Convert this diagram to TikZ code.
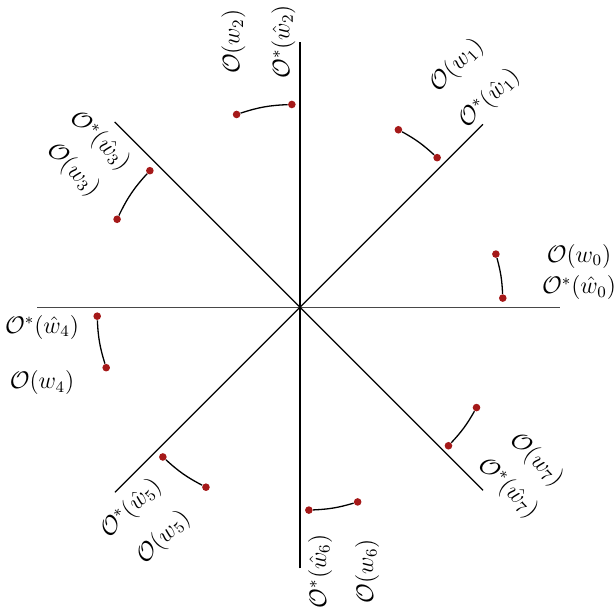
\documentclass[tikz,border=0pt]{standalone}
\usepackage{amsmath}
\definecolor{dotred}{RGB}{165,25,25}
\begin{document}
\begin{tikzpicture}[x=0.5pt,y=0.5pt,
  axis/.style={line width=0.65pt, black},
  haxis/.style={line width=0.8pt, black!72},
  dotn/.style={circle, fill=dotred, inner sep=0pt, minimum size=3.8pt},
  link/.style={line width=0.65pt, black},
  lbl/.style={inner sep=0pt, font=\fontsize{12}{14}\selectfont}]
\useasboundingbox (-300,-298.7) rectangle (315,307.3);
% axes
\coordinate (C) at (0,0);
\coordinate (E0) at (0:260);
\coordinate (E1) at (45:258.7);
\coordinate (E2) at (90:265.6);
\coordinate (E3) at (135:262.1);
\coordinate (E4) at (180:262.7);
\coordinate (E5) at (225:261.6);
\coordinate (E6) at (270:261);
\coordinate (E7) at (315:258.8);
\draw[haxis] (E4) -- (E0);
\draw[axis] (E6) -- (E2);
\draw[axis] (E5) -- (E1);
\draw[axis] (E3) -- (E7);
% dots
\node[dotn] (d0a) at (2.6:203) {};
\node[dotn] (d0b) at (15.2:203) {};
\node[dotn] (d1a) at (47.5:203) {};
\node[dotn] (d1b) at (61.0:203) {};
\node[dotn] (d2a) at (92.3:203) {};
\node[dotn] (d2b) at (108.2:203) {};
\node[dotn] (d3a) at (137.7:203) {};
\node[dotn] (d3b) at (154.3:203) {};
\node[dotn] (d4a) at (182.5:203) {};
\node[dotn] (d4b) at (197.3:203) {};
\node[dotn] (d5a) at (227.5:203) {};
\node[dotn] (d5b) at (242.4:203) {};
\node[dotn] (d6a) at (272.5:203) {};
\node[dotn] (d6b) at (286.5:203) {};
\node[dotn] (d7a) at (317.0:203) {};
\node[dotn] (d7b) at (330.4:203) {};
% arcs
\draw[link] (d0a) to[bend right=6.3] (d0b);
\draw[link] (d1a) to[bend right=6.75] (d1b);
\draw[link] (d2a) to[bend right=7.95] (d2b);
\draw[link] (d3a) to[bend right=8.3] (d3b);
\draw[link] (d4a) to[bend right=7.4] (d4b);
\draw[link] (d5a) to[bend right=7.45] (d5b);
\draw[link] (d6a) to[bend right=7] (d6b);
\draw[link] (d7a) to[bend right=6.7] (d7b);
% labels
\node[lbl] (l0w) at (279,51) {$\mathcal{O}(w_0)$};
\node[lbl] (l0s) at (279,19.5) {$\mathcal{O}^*(\hat{w}_0)$};
\node[lbl, rotate=45] (l1w) at (157,242) {$\mathcal{O}(w_1)$};
\node[lbl, rotate=45] (l1s) at (189.8,208.7) {$\mathcal{O}^*(\hat{w}_1)$};
\node[lbl, rotate=90] (l2w) at (-66.5,265.5) {$\mathcal{O}(w_2)$};
\node[lbl, rotate=90] (l2s) at (-16.6,265.5) {$\mathcal{O}^*(\hat{w}_2)$};
\node[lbl, rotate=-45] (l3s) at (-200,166.2) {$\mathcal{O}^*(\hat{w}_3)$};
\node[lbl, rotate=-45] (l3w) at (-227,137) {$\mathcal{O}(w_3)$};
\node[lbl] (l4s) at (-258,-20) {$\mathcal{O}^*(\hat{w}_4)$};
\node[lbl] (l4w) at (-258,-75.4) {$\mathcal{O}(w_4)$};
\node[lbl, rotate=45] (l5s) at (-168.5,-201.2) {$\mathcal{O}^*(\hat{w}_5)$};
\node[lbl, rotate=45] (l5w) at (-136.4,-230.2) {$\mathcal{O}(w_5)$};
\node[lbl, rotate=90] (l6s) at (20,-264) {$\mathcal{O}^*(\hat{w}_6)$};
\node[lbl, rotate=90] (l6w) at (67,-264) {$\mathcal{O}(w_6)$};
\node[lbl, rotate=-45] (l7w) at (236.5,-153) {$\mathcal{O}(w_7)$};
\node[lbl, rotate=-45] (l7s) at (208,-181.2) {$\mathcal{O}^*(\hat{w}_7)$};
\end{tikzpicture}
\end{document}
